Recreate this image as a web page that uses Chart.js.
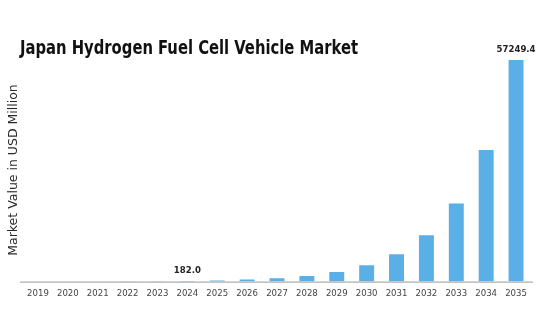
<!DOCTYPE html>
<html>
<head>
<meta charset="utf-8">
<script src="https://cdn.jsdelivr.net/npm/chart.js@4/dist/chart.umd.min.js"></script>
<style>
  html, body { margin: 0; padding: 0; background: #ffffff; }
  #wrap { width: 547px; height: 334px; position: relative; }
</style>
</head>
<body>
<div id="wrap"><canvas id="market-chart"></canvas></div>
<script>
// Chart data
const years = ['2019', '2020', '2021', '2022', '2023', '2024', '2025', '2026', '2027',
               '2028', '2029', '2030', '2031', '2032', '2033', '2034', '2035'];
const marketValues = [20, 30, 45, 70, 110, 182.0, 307, 518, 874,
                      1475, 2488, 4198, 7082, 11948, 20156, 34003, 57249.4];
const labelledYears = ['2024', '2035'];

const chartTitle = 'Japan Hydrogen Fuel Cell Vehicle Market';
const yAxisTitle = 'Market Value in USD Million';

const CONDENSED = "'DejaVu Sans Condensed', 'DejaVu Sans', sans-serif";

// Title, y title, axis line and value labels
const decorations = {
    id: 'decorations',
    afterDatasetsDraw(chart) {
        const c = chart.ctx;
        const area = chart.chartArea;
        const meta = chart.getDatasetMeta(0);

        // main title, squeezed to the reference width
        c.save();
        c.font = 'bold 19px ' + CONDENSED;
        c.fillStyle = '#111111';
        c.textBaseline = 'alphabetic';
        const w = c.measureText(chartTitle).width;
        const sx = Math.min(1, 338 / w);
        c.translate(20, 54);
        c.scale(sx, 1);
        c.fillText(chartTitle, 0, 0);
        c.restore();

        // rotated y axis title
        c.save();
        c.font = "12.5px 'DejaVu Sans', sans-serif";
        c.fillStyle = '#2a2a2a';
        c.textAlign = 'center';
        c.textBaseline = 'middle';
        c.translate(14, 170);
        c.rotate(-Math.PI / 2);
        c.fillText(yAxisTitle, 0, 0);
        c.restore();

        // baseline
        c.save();
        c.strokeStyle = '#999999';
        c.lineWidth = 1;
        c.beginPath();
        c.moveTo(20, area.bottom + 0.5);
        c.lineTo(533, area.bottom + 0.5);
        c.stroke();
        c.restore();

        // value labels
        c.save();
        c.font = 'bold 9.5px ' + CONDENSED;
        c.fillStyle = '#222222';
        c.textAlign = 'center';
        c.textBaseline = 'bottom';
        meta.data.forEach((bar, i) => {
            if (!labelledYears.includes(years[i])) return;
            c.fillText(marketValues[i].toFixed(1), bar.x, bar.y - 6);
        });
        c.restore();
    }
};

const ctx = document.getElementById('market-chart').getContext('2d');
new Chart(ctx, {
    type: 'bar',
    data: {
        labels: years,
        datasets: [{
            data: marketValues,
            backgroundColor: '#5aafe6',
            borderWidth: 0,
            barPercentage: 0.5,
            categoryPercentage: 1.0
        }]
    },
    options: {
        responsive: true,
        maintainAspectRatio: false,
        animation: false,
        layout: { padding: { left: 23, right: 16, top: 60, bottom: 37 } },
        plugins: {
            legend: { display: false },
            tooltip: { enabled: false },
            title: { display: false }
        },
        scales: {
            x: {
                grid: { display: false },
                border: { display: false },
                ticks: {
                    color: '#444444',
                    font: { family: CONDENSED, size: 9.5 },
                    maxRotation: 0,
                    autoSkip: false,
                    padding: -2
                }
            },
            y: {
                display: false,
                min: 0,
                max: 57249.4
            }
        }
    },
    plugins: [decorations]
});
</script>
</body>
</html>
